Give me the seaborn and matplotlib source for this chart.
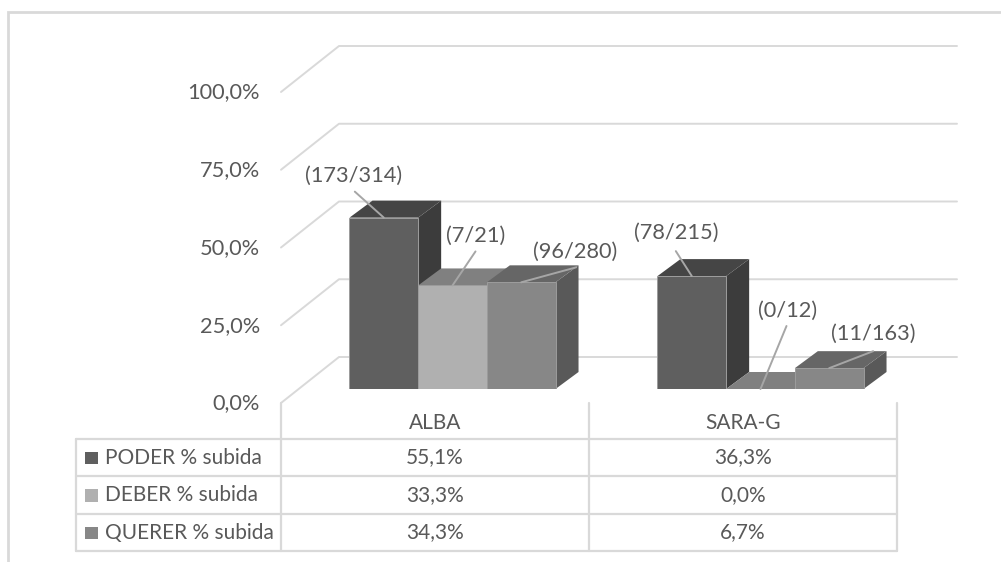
import matplotlib
matplotlib.use('Agg')
import matplotlib.pyplot as plt
import pandas as pd
import seaborn as sns
from matplotlib.patches import Polygon, Rectangle

groups = ['ALBA', 'SARA-G']
series = ['PODER % subida', 'DEBER % subida', 'QUERER % subida']
poder = [55.1, 36.3]
deber = [33.3, 0.0]
querer = [34.3, 6.7]
poder_labels = ['(173/314)', '(78/215)']
deber_labels = ['(7/21)', '(0/12)']
querer_labels = ['(96/280)', '(11/163)']
y_ticks = [0, 25, 50, 75, 100]

front_colors = ['#5f5f5f', '#b0b0b0', '#878787']
top_colors = ['#454545', '#808080', '#666666']
side_colors = ['#3c3c3c', '#6e6e6e', '#595959']
text_color = '#595959'
line_color = '#d9d9d9'

W, H = 1001, 562
# pixel layout of the plot box
X0, X1 = 281, 897
BAR_SHIFT = 17.5
Y_ZERO, Y_FULL = 389, 78
BAR_DX, BAR_DY = 23, 17
WALL_DX, WALL_DY = 58, 46
FLOOR_Y = 403
GRID_END = 957
FS = 15
FS_LABEL = 15.7

sns.set_theme(style='white')
plt.rcParams['font.family'] = ['Lato', 'DejaVu Sans']

df = pd.DataFrame({
    'group': groups * 3,
    'serie': [s for s in series for _ in groups],
    'value': poder + deber + querer,
})

fig = plt.figure(figsize=(W / 100, H / 100), dpi=100, facecolor='white')

# overlay in pixel coordinates: frame, walls and data table
ov = fig.add_axes([0, 0, 1, 1], zorder=0)
ov.set_xlim(0, W)
ov.set_ylim(H, 0)
ov.axis('off')

ax = fig.add_axes([(X0 + BAR_SHIFT) / W, 1 - Y_ZERO / H, (X1 - X0) / W, (Y_ZERO - Y_FULL) / H], zorder=1)
ax.patch.set_alpha(0)

sns.barplot(data=df, x='group', y='value', hue='serie', order=groups, hue_order=series,
            palette=dict(zip(series, front_colors)), width=0.669, gap=0, dodge=True,
            legend=False, saturation=1, ax=ax, linewidth=0.7, edgecolor='#9c9c9c')
ax.set_xlim(-0.5, 1.5)
ax.set_ylim(0, 100)
ax.axis('off')

# window frame
ov.plot([8, 8, W], [H, 12, 12], color=line_color, lw=2.0, solid_joinstyle='miter')

# gridlines on the wall and floor side
for tick in y_ticks:
    y_front = FLOOR_Y - tick * (Y_ZERO - Y_FULL) / 100
    ov.plot([X0, X0 + WALL_DX, GRID_END], [y_front, y_front - WALL_DY, y_front - WALL_DY],
            color=line_color, lw=1.4)
    ov.text(260, y_front + 0.5, f'{tick:.1f}%'.replace('.', ','), ha='right', va='center',
            color=text_color, fontsize=FS_LABEL)

# depth faces, built from the bars seaborn drew
dx = BAR_DX / (X1 - X0) * 2
dy = BAR_DY / (Y_ZERO - Y_FULL) * 100
bars = []
for i, cont in enumerate(ax.containers):
    for j, bar in enumerate(cont):
        bars.append((bar.get_x(), i, j, bar))
bars.sort(key=lambda b: b[0])

for z, (x, i, j, bar) in enumerate(bars):
    w = bar.get_width()
    h = bar.get_height()
    bar.set_zorder(50)
    ax.add_patch(Polygon([(x, h), (x + w, h), (x + w + dx, h + dy), (x + dx, h + dy)],
                         facecolor=top_colors[i], edgecolor='none', clip_on=False, zorder=5 + 2 * z))
    ax.add_patch(Polygon([(x + w, 0), (x + w + dx, dy), (x + w + dx, h + dy), (x + w, h)],
                         facecolor=side_colors[i], edgecolor='none', clip_on=False, zorder=4 + 2 * z))

# data labels with leader lines: (label offset, leader start offset) from the bar top, pixels
all_labels = [poder_labels, deber_labels, querer_labels]
label_offsets = [[(-30, 41.5), (-16, 43)], [(23, 50), (27, 78.5)], [(54, 30.5), (44, 34)]]
leader_offsets = [[(-29, 26), (-16, 25)], [(23, 34), (26, 63)], [(55, 15), (44, 17)]]
for i, cont in enumerate(ax.containers):
    for j, bar in enumerate(cont):
        xc = bar.get_x() + bar.get_width() / 2
        h = bar.get_height()
        ax.annotate('', xy=(xc, h), xytext=leader_offsets[i][j], textcoords='offset pixels',
                    annotation_clip=False, zorder=60,
                    arrowprops=dict(arrowstyle='-', color='#a6a6a6', lw=1.4, shrinkA=0, shrinkB=0))
        ax.annotate(all_labels[i][j], xy=(xc, h), xytext=label_offsets[i][j], textcoords='offset pixels',
                    ha='center', va='center', color=text_color, fontsize=FS_LABEL, annotation_clip=False, zorder=60)

# data table
row_y = [439, 476, 514, 551]
col_x = [X0, 589, X1]
for x in col_x:
    ov.plot([x, x], [FLOOR_Y, row_y[-1]], color=line_color, lw=1.6)
ov.plot([76, 76], [row_y[0], row_y[-1]], color=line_color, lw=1.6)
for y in row_y:
    ov.plot([76, X1], [y, y], color=line_color, lw=1.6)

centers = [(col_x[k] + col_x[k + 1]) / 2 for k in range(2)]
for c, name in zip(centers, groups):
    ov.text(c, 423, name, ha='center', va='center', color=text_color, fontsize=FS)

rows = [poder, deber, querer]
for r, name in enumerate(series):
    yc = (row_y[r] + row_y[r + 1]) / 2
    ov.add_patch(Rectangle((85, yc - 6), 12.5, 12.5, facecolor=front_colors[r], edgecolor='none'))
    ov.text(105, yc, name, ha='left', va='center', color=text_color, fontsize=FS)
    for c, v in zip(centers, rows[r]):
        ov.text(c, yc, f'{v:.1f}%'.replace('.', ','), ha='center', va='center',
                color=text_color, fontsize=FS)

fig.savefig('out.png', dpi=100)
